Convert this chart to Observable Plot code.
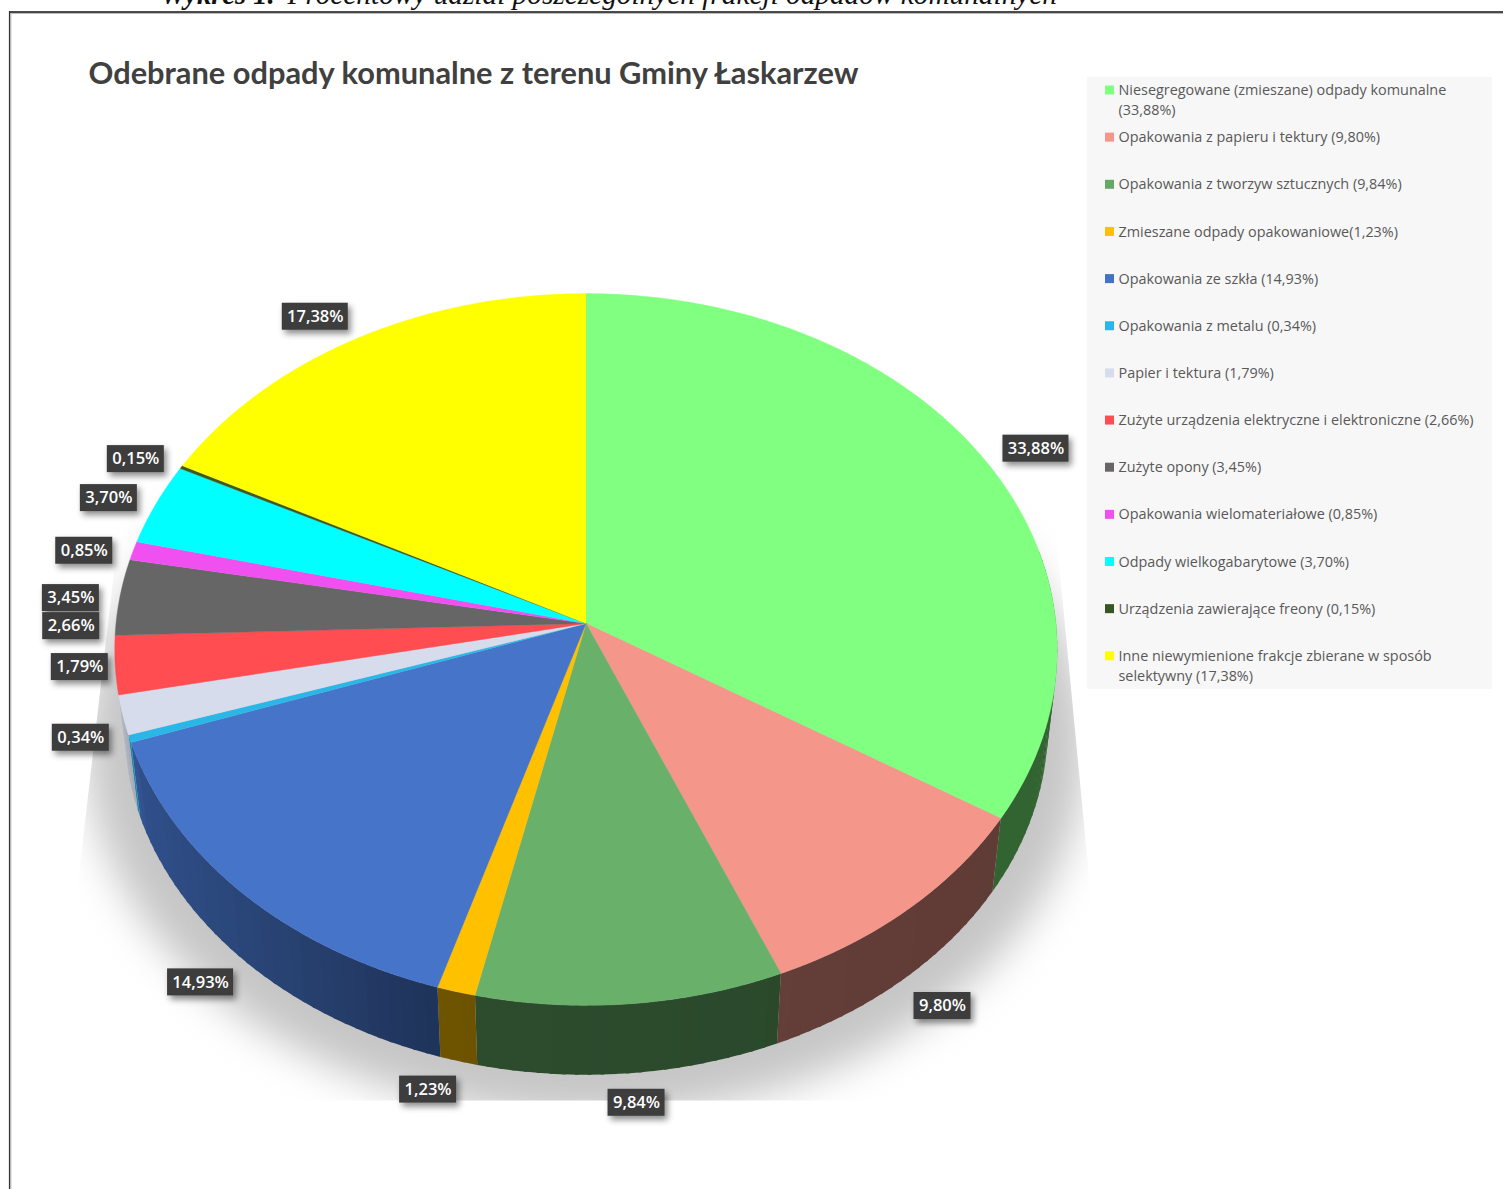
<!DOCTYPE html>
<html lang="pl">
<head>
<meta charset="utf-8">
<script src="https://cdn.jsdelivr.net/npm/d3@7"></script>
<script src="https://cdn.jsdelivr.net/npm/@observablehq/plot@0.6"></script>
<style>html,body{margin:0;padding:0;background:#fff;overflow:hidden}svg{display:block;overflow:hidden}</style>
</head>
<body>
<div id="chart"></div>
<script>
// ---- data ----
const names = [
  "Niesegregowane (zmieszane) odpady komunalne\n",
  "Opakowania z papieru i tektury ",
  "Opakowania z tworzyw sztucznych ",
  "Zmieszane odpady opakowaniowe",
  "Opakowania ze szkła ",
  "Opakowania z metalu ",
  "Papier i tektura ",
  "Zużyte urządzenia elektryczne i elektroniczne ",
  "Zużyte opony ",
  "Opakowania wielomateriałowe ",
  "Odpady wielkogabarytowe ",
  "Urządzenia zawierające freony ",
  "Inne niewymienione frakcje zbierane w sposób\nselektywny "
];
const values = [33.88, 9.80, 9.84, 1.23, 14.93, 0.34, 1.79, 2.66, 3.45, 0.85, 3.70, 0.15, 17.38];
const colors = ["#80ff80","#f4978a","#69b16a","#ffc000","#4674c9","#2ab7e8","#d6dcec","#ff4d52","#666666","#f050f0","#00ffff","#3b5a22","#ffff00"];
const legendColors = ["#80ff80","#f4978a","#66a966","#ffc000","#4472c4","#2ab7e8","#d6dcec","#ff4d52","#666666","#f050f0","#00ffff","#375623","#ffff00"];
// offset of each value label from the rim point at the middle of its slice
const labelNudge = [[53,-9],[34,97],[6,99],[-28,98],[-41,90],[-49,-1],[-43,-48],[-44,-39],[-49,1],[-49,0],[-47,-6],[-45.5,-8],[-41,-22]];
const chartTitle = "Odebrane odpady komunalne z terenu Gminy Łaskarzew";
const captionLead = "Wykres 1. ";
const captionRest = "Procentowy udział poszczególnych frakcji odpadów komunalnych";

// ---- geometry: perspective view of a disc ----
const W = 1503, H = 1189;
const cx = 585.5, cy = 623, ax = 470, ay = 354, persp = 0.073;
const shrink = 0.98, depth = 77, wallFrom = 78, wallTo = 258;
const rad = d => d * Math.PI / 180;
function rimTop(theta, r = 1) {
  const u = r * Math.sin(rad(theta)), v = -r * Math.cos(rad(theta)), w = 1 - persp * v;
  return [cx + ax * u / w, cy + ay * v / w];
}
function rimLow(theta) {
  const [x, y] = rimTop(theta);
  return [cx + (x - cx) * shrink, cy + (y - cy) * shrink + depth];
}
const total = d3.sum(values);
const pct = d => d.toFixed(2).replace(".", ",") + "%";
let acc = 0;
const slices = values.map((v, i) => {
  const a0 = acc / total * 360; acc += v;
  return {i, v, a0, a1: acc / total * 360, mid: (a0 + (acc / total * 360)) / 2};
});
const arcSteps = (a0, a1, step) => {
  const n = Math.max(1, Math.ceil((a1 - a0) / step));
  return d3.range(n + 1).map(j => a0 + (a1 - a0) * j / n);
};

// top faces
const topRows = slices.flatMap(s => {
  const pts = [[cx, cy], ...arcSteps(s.a0, s.a1, 0.5).map(t => rimTop(t))];
  return pts.map(([x, y]) => ({id: s.i, x, y, c: colors[s.i]}));
});
// side walls, shaded from left to right; each band overlaps the next to hide seams
const shade = d3.scaleLinear([120, 140, 450, 1060], [0.82, 0.68, 0.43, 0.39]).clamp(true);
const wallRows = slices.flatMap(s => {
  const a0 = Math.max(s.a0, wallFrom), a1 = Math.min(s.a1, wallTo);
  if (a1 <= a0) return [];
  const ts = arcSteps(a0, a1, 1.5), rows = [];
  ts.slice(1).forEach((t, j) => {
    const p = ts[j], e = Math.min(t + 0.4, a1);
    const pa = rimTop(p), pb = rimTop(e), qa = rimLow(e), qb = rimLow(p);
    const f = shade((pa[0] + pb[0]) / 2), base = d3.rgb(colors[s.i]);
    const c = d3.rgb(base.r * f, base.g * f, base.b * f).formatHex();
    [pa, pb, qa, qb].forEach(([x, y]) => rows.push({id: s.i + "-" + j, x, y, c}));
  });
  return rows;
});
// soft shadow below the disc, cut off to the trapezoid of the picture
const shadowRows = d3.range(0, 360, 3).map(t => ({
  x: cx + 500 * Math.sin(rad(t)),
  y: 745 + 372 * Math.cos(rad(t))
}));
const poly = (id, pts) => pts.map(([x, y]) => ({id, x, y}));
const maskRows = [
  ...poly("l", [[-5, 420], [131, 420], [52, 1102], [-5, 1102]]),
  ...poly("r", [[1045, 420], [1510, 420], [1510, 1102], [1110, 1102]]),
  ...poly("b", [[-5, 1100], [1510, 1100], [1510, 1195], [-5, 1195]])
];

// value labels
const labelRows = slices.map(s => {
  const [x, y] = rimTop(s.mid), [dx, dy] = labelNudge[s.i];
  const text = pct(s.v), hw = text.length > 5 ? 33 : 28.5;
  return {text, x: x + dx, y: y + dy, x1: x + dx - hw, x2: x + dx + hw, y1: y + dy - 13.5, y2: y + dy + 13.5};
});
// legend
const rowY = i => 90 + i * 47.15;
const legendKeys = names.map((n, i) => ({i, y: rowY(i), c: legendColors[i]}));
const legendLines = names.flatMap((n, i) =>
  (n + "(" + pct(values[i]) + ")").split("\n").map((line, j) => ({line, y: rowY(i) + j * 20})));

const plot = Plot.plot({
  width: W, height: H,
  margin: 0,
  x: {domain: [0, W], range: [0, W], axis: null},
  y: {domain: [0, H], range: [0, H], axis: null},
  color: {type: "identity"},
  marks: [
    Plot.line(shadowRows, {x: "x", y: "y", fill: "#c6c6c6", stroke: "none", imageFilter: "blur(20px)"}),
    Plot.line(maskRows, {x: "x", y: "y", z: "id", fill: "white", stroke: "none"}),
    Plot.line(wallRows, {x: "x", y: "y", z: "id", fill: "c", stroke: "none"}),
    Plot.line(topRows, {x: "x", y: "y", z: "id", fill: "c", stroke: "c", strokeWidth: 0.4}),
    Plot.rect(labelRows, {x1: "x1", x2: "x2", y1: "y1", y2: "y2", fill: "#3d3d3d", imageFilter: "drop-shadow(3px 4px 3px rgba(0,0,0,0.45))"}),
    Plot.text(labelRows, {x: "x", y: "y", text: "text", fill: "white", fontFamily: "Open Sans", fontWeight: 600, fontSize: 16.5}),
    // frame
    Plot.ruleY([12.8], {x1: () => 10, x2: () => W, stroke: "#bbb", strokeWidth: 1.2}),
    Plot.ruleX([10.3], {y1: () => 12, y2: () => H, stroke: "#bbb", strokeWidth: 1.2}),
    Plot.ruleY([11.5], {x1: () => 9, x2: () => W, stroke: "#111", strokeWidth: 1.3}),
    Plot.ruleX([9], {y1: () => 11, y2: () => H, stroke: "#333", strokeWidth: 1.2}),
    // caption and title
    Plot.text([captionLead], {x: () => 160, y: () => 3, text: d => d, textAnchor: "start", lineAnchor: "bottom", fontFamily: "Liberation Serif", fontStyle: "italic", fontWeight: 700, fontSize: 28.5, fill: "#111"}),
    Plot.text([captionRest], {x: () => 287, y: () => 3, text: d => d, textAnchor: "start", lineAnchor: "bottom", fontFamily: "Liberation Serif", fontStyle: "italic", fontSize: 29.3, fill: "#111"}),
    Plot.text([chartTitle], {x: () => 88, y: () => 83, text: d => d, textAnchor: "start", lineAnchor: "bottom", fontFamily: "Lato", fontWeight: 700, fontSize: 30.8, fill: "#404040"}),
    // legend
    Plot.rect([0], {x1: () => 1087, x2: () => 1492, y1: () => 77, y2: () => 689, fill: "#f7f7f7"}),
    Plot.rect(legendKeys, {x1: () => 1105, x2: () => 1114, y1: d => d.y - 4.5, y2: d => d.y + 4.5, fill: "c"}),
    Plot.text(legendLines, {x: () => 1118, y: "y", text: "line", textAnchor: "start", fontFamily: "Open Sans", fontSize: 14.4, fill: "#595959"})
  ]
});
document.getElementById("chart").append(plot);
</script>
</body>
</html>
